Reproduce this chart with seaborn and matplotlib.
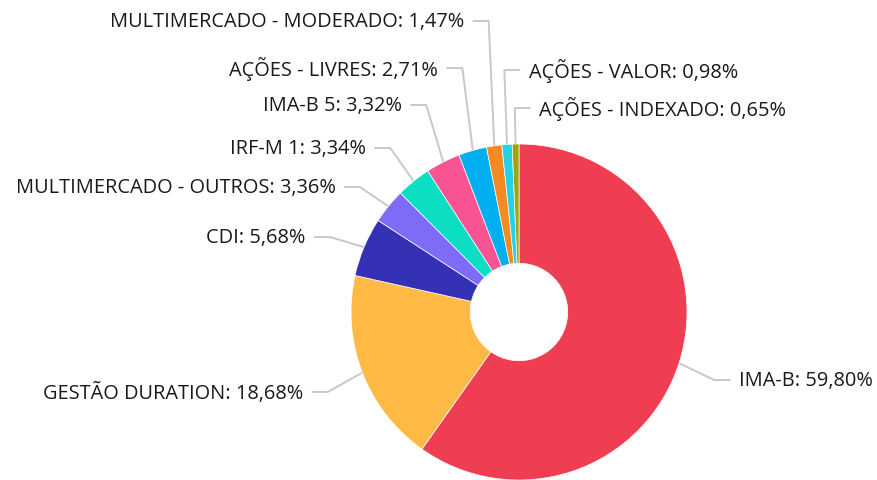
import numpy as np
import matplotlib
matplotlib.use("Agg")
import matplotlib.pyplot as plt
import seaborn as sns

categories = ["IMA-B", "GESTÃO DURATION", "CDI", "MULTIMERCADO - OUTROS", "IRF-M 1",
              "IMA-B 5", "AÇÕES - LIVRES", "MULTIMERCADO - MODERADO",
              "AÇÕES - VALOR", "AÇÕES - INDEXADO"]
values = [59.80, 18.68, 5.68, 3.36, 3.34, 3.32, 2.71, 1.47, 0.98, 0.65]
value_labels = ["59,80%", "18,68%", "5,68%", "3,36%", "3,34%", "3,32%", "2,71%",
                "1,47%", "0,98%", "0,65%"]
colors = ["#EF3D52", "#FFBA45", "#3431B4", "#7E6CF8", "#0CDEC4", "#F85392",
          "#00AFF0", "#F58A22", "#22D3E8", "#9EA50F"]
# label layout (vertical positions of label rows, in radius units)
label_y = [-0.405, -0.476, 0.446, 0.744, 0.976, 1.232, 1.452, 1.732, 1.440, 1.214]
label_side = [1, -1, -1, -1, -1, -1, -1, -1, 1, 1]

sns.set_theme(style="white")
plt.rcParams["font.family"] = ["Open Sans", "DejaVu Sans"]

R = 168.0
fig = plt.figure(figsize=(8.77, 4.81), dpi=100)
ax = fig.add_axes([0, 0, 1, 1])

pal = sns.color_palette(colors)
wedges, _ = ax.pie(values, colors=pal, startangle=90, counterclock=False,
                   radius=1.0, wedgeprops=dict(width=0.71, edgecolor="white", linewidth=0.5))

for w, cat, vl, ly, side in zip(wedges, categories, value_labels, label_y, label_side):
    mid = np.deg2rad((w.theta1 + w.theta2) / 2)
    ax_, ay_ = np.cos(mid), np.sin(mid)
    ex = 1.22 * ax_
    hx = ex + side * 0.095
    tx = hx + side * 0.05
    ax.plot([ax_ * 0.99, ex, hx], [ay_ * 0.99, ly, ly], color="#C8C8C8", lw=1.4,
            solid_capstyle="butt", zorder=0)
    ax.text(tx, ly, f"{cat}: {vl}", ha="left" if side > 0 else "right", va="center",
            fontsize=14.4, color="#1a1a1a")

ax.set_xlim(-519 / R, (877 - 519) / R)
ax.set_ylim((313 - 481) / R, 313 / R)
ax.set_aspect("equal")
ax.axis("off")

fig.savefig("out.png", dpi=100)
